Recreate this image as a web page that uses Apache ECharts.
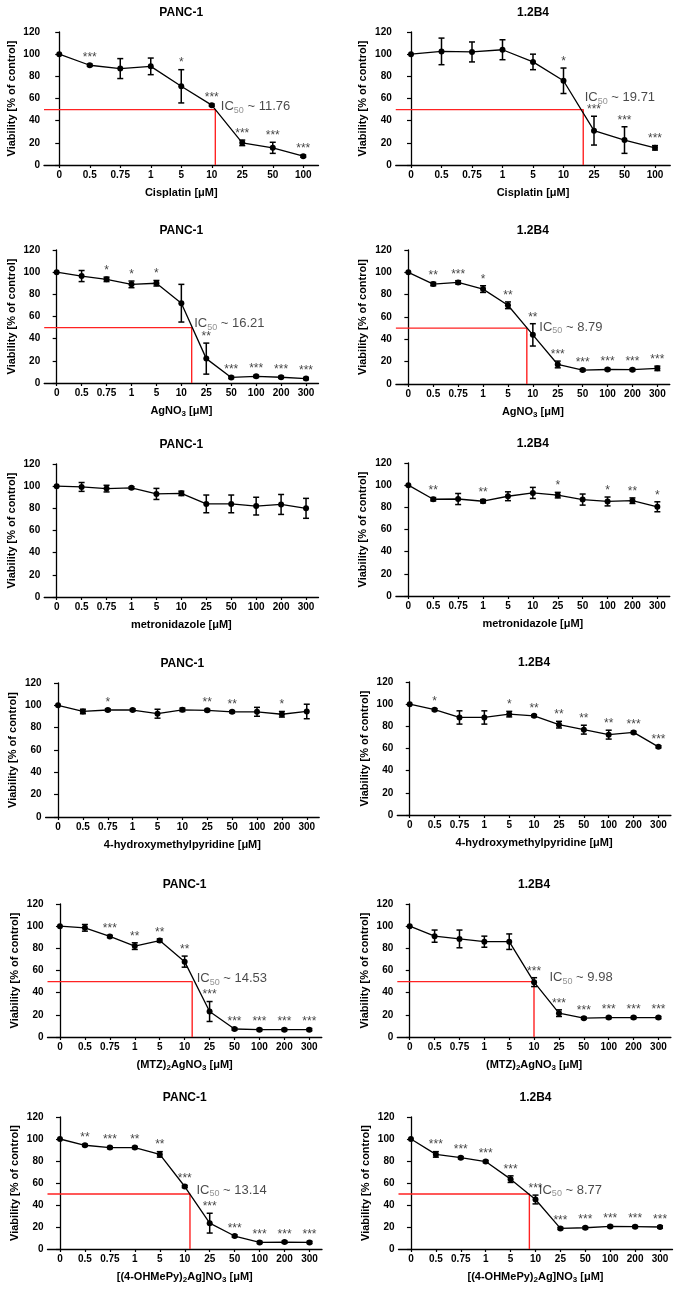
<!DOCTYPE html>
<html><head><meta charset="utf-8">
<script src="https://cdn.jsdelivr.net/npm/echarts@6/dist/echarts.min.js"></script>
<style>html,body{margin:0;padding:0;background:#fff}#c{width:678px;height:1290px}</style>
</head><body><div id="c"></div>
<script>
// ---------- categories (µM) ----------
const concShort = ['0','0.5','0.75','1','5','10','25','50','100'];
const concLong  = ['0','0.5','0.75','1','5','10','25','50','100','200','300'];
const cellLines = ['PANC-1', '1.2B4'];

// ---------- Cisplatin ----------
const cisPancMean = [100, 90, 87, 89, 71, 54, 20, 15.5, 8];
const cisPancErr  = [0, 1, 9, 7.5, 15, 1, 2.5, 5, 1];
const cisPancSig  = ['', '***', '', '', '*', '***', '***', '***', '***'];
const cisPancIC50 = 11.76;
const cisB4Mean = [100, 102.5, 102, 104, 93, 76, 31, 22.5, 15.5];
const cisB4Err  = [0, 12, 9, 9, 7, 11.5, 13, 12, 2];
const cisB4Sig  = ['', '', '', '', '', '*', '***', '***', '***'];
const cisB4IC50 = 19.71;

// ---------- AgNO3 ----------
const agPancMean = [100, 96.5, 93.5, 89, 90, 72, 22, 5, 6, 5.2, 4];
const agPancErr  = [0, 5, 2, 3, 2.5, 17, 14, 1, 1, 1, 1];
const agPancSig  = ['', '', '*', '*', '*', '', '**', '***', '***', '***', '***'];
const agPancIC50 = 16.21;
const agB4Mean = [100, 89.5, 91, 85, 70.5, 44, 17.5, 12.5, 13, 12.8, 14];
const agB4Err  = [0, 1.5, 1.5, 3, 3, 10, 3, 1, 1, 1, 2];
const agB4Sig  = ['', '**', '***', '*', '**', '**', '***', '***', '***', '***', '***'];
const agB4IC50 = 8.79;

// ---------- metronidazole ----------
const mtzPancMean = [100, 99.3, 97.8, 98.5, 93, 93.5, 84, 84, 82, 83.5, 80];
const mtzPancErr  = [0, 4, 3, 1, 5, 2, 8, 8, 8, 9, 9];
const mtzPancSig  = ['', '', '', '', '', '', '', '', '', '', ''];
const mtzB4Mean = [100, 87.3, 87.5, 85.5, 90, 93, 91, 87, 85.3, 86, 80.5];
const mtzB4Err  = [0, 1.5, 5, 1.5, 4, 5, 2.5, 5, 4, 2.5, 4.5];
const mtzB4Sig  = ['', '**', '', '**', '', '', '*', '', '*', '**', '*'];

// ---------- 4-hydroxymethylpyridine ----------
const hmpPancMean = [100, 94.5, 95.8, 95.8, 92.5, 96, 95.5, 94.2, 94.2, 92, 94.5];
const hmpPancErr  = [0, 2, 1, 1, 4, 1.5, 1, 1, 4, 2.5, 6.5];
const hmpPancSig  = ['', '', '*', '', '', '', '**', '**', '', '*', ''];
const hmpB4Mean = [100, 95, 88, 88, 91, 89.5, 81.5, 77, 72.5, 74.5, 61.5];
const hmpB4Err  = [0, 1, 6, 6, 2.5, 1, 3, 4, 4, 1, 1];
const hmpB4Sig  = ['', '*', '', '', '*', '**', '**', '**', '**', '***', '***'];

// ---------- (MTZ)2AgNO3 ----------
const mtzAgPancMean = [100, 98.5, 90.7, 82, 87, 68, 23, 7.2, 6.6, 6.6, 6.6];
const mtzAgPancErr  = [0, 3, 1, 3, 1.5, 5, 9, 1, 1, 1, 1];
const mtzAgPancSig  = ['', '', '***', '**', '**', '**', '***', '***', '***', '***', '***'];
const mtzAgPancIC50 = 14.53;
const mtzAgB4Mean = [100, 91, 88.5, 86, 86, 49.5, 21.5, 17, 17.5, 17.5, 17.5];
const mtzAgB4Err  = [0, 5.5, 8, 5, 7, 4, 3, 1, 1, 1, 1];
const mtzAgB4Sig  = ['', '', '', '', '', '***', '***', '***', '***', '***', '***'];
const mtzAgB4IC50 = 9.98;

// ---------- [(4-OHMePy)2Ag]NO3 ----------
const hmpAgPancMean = [100, 94.3, 92.2, 92.2, 86, 56.8, 23.5, 11.8, 6, 6.3, 6];
const hmpAgPancErr  = [0, 1, 1, 1, 2.5, 1, 9, 1, 1, 1, 1];
const hmpAgPancSig  = ['', '**', '***', '**', '**', '***', '***', '***', '***', '***', '***'];
const hmpAgPancIC50 = 13.14;
const hmpAgB4Mean = [100, 86, 83, 79.5, 63.5, 45, 18.7, 19.3, 20.5, 20.3, 20];
const hmpAgB4Err  = [0, 2.5, 1, 1, 3, 4, 1, 1, 1, 1, 1];
const hmpAgB4Sig  = ['', '***', '***', '***', '***', '***', '***', '***', '***', '***', '***'];
const hmpAgB4IC50 = 8.77;

const yMin = 0, yMax = 120, yStep = 20, ic50Level = 50;
const yName = 'Viability [% of control]';
const xNames = ['Cisplatin [μM]', 'AgNO{s|3} [μM]', 'metronidazole [μM]',
  '4-hydroxymethylpyridine [μM]', '(MTZ){s|2}AgNO{s|3} [μM]', '[(4-OHMePy){s|2}Ag]NO{s|3} [μM]'];

// ---------- panel table ----------
const panels = [
  {row:0, col:0, conc:concShort, mean:cisPancMean, err:cisPancErr, sig:cisPancSig, ic50:cisPancIC50},
  {row:0, col:1, conc:concShort, mean:cisB4Mean, err:cisB4Err, sig:cisB4Sig, ic50:cisB4IC50},
  {row:1, col:0, conc:concLong, mean:agPancMean, err:agPancErr, sig:agPancSig, ic50:agPancIC50},
  {row:1, col:1, conc:concLong, mean:agB4Mean, err:agB4Err, sig:agB4Sig, ic50:agB4IC50},
  {row:2, col:0, conc:concLong, mean:mtzPancMean, err:mtzPancErr, sig:mtzPancSig, ic50:null},
  {row:2, col:1, conc:concLong, mean:mtzB4Mean, err:mtzB4Err, sig:mtzB4Sig, ic50:null},
  {row:3, col:0, conc:concLong, mean:hmpPancMean, err:hmpPancErr, sig:hmpPancSig, ic50:null},
  {row:3, col:1, conc:concLong, mean:hmpB4Mean, err:hmpB4Err, sig:hmpB4Sig, ic50:null},
  {row:4, col:0, conc:concLong, mean:mtzAgPancMean, err:mtzAgPancErr, sig:mtzAgPancSig, ic50:mtzAgPancIC50},
  {row:4, col:1, conc:concLong, mean:mtzAgB4Mean, err:mtzAgB4Err, sig:mtzAgB4Sig, ic50:mtzAgB4IC50},
  {row:5, col:0, conc:concLong, mean:hmpAgPancMean, err:hmpAgPancErr, sig:hmpAgPancSig, ic50:hmpAgPancIC50},
  {row:5, col:1, conc:concLong, mean:hmpAgB4Mean, err:hmpAgB4Err, sig:hmpAgB4Sig, ic50:hmpAgB4IC50}
];

// ---------- layout (pixels) ----------
const gridBoxes = [ // left, width, top, bottom
  [44, 274.5, 32, 165], [395.75, 274.5, 32, 165],
  [44.2, 274.3, 250, 383], [395.9, 273.9, 250, 384],
  [44.2, 274.3, 464, 597], [395.9, 273.9, 463, 596],
  [45.6, 273.6, 683, 817], [397.3, 273.6, 682, 815],
  [47.5, 274.3, 904, 1037], [397.3, 273.6, 904, 1037],
  [47.5, 274.5, 1117, 1249], [398.5, 274, 1117, 1249]
];
const ic50Offsets = [[5,-3],[1,-12],[2,-4],[12,-1],[0,0],[0,0],[0,0],[0,0],[4,-3],[15,-4],[6,-4],[9,-4]];

const FONT = '"Liberation Sans", Arial, sans-serif';

function ic50Index(conc, v) {
  const c = conc.map(Number);
  for (let i = 0; i < c.length - 1; i++) {
    if (v >= c[i] && v <= c[i + 1]) return i + (v - c[i]) / (c[i + 1] - c[i]);
  }
  return null;
}

function errRender(params, api) {
  const i = api.value(0), lo = api.value(1), hi = api.value(2);
  const a = api.coord([i, lo]), b = api.coord([i, hi]);
  const cap = 3, st = {stroke: '#000', lineWidth: 1.5};
  return {type: 'group', children: [
    {type: 'line', shape: {x1: a[0], y1: a[1], x2: b[0], y2: b[1]}, style: st},
    {type: 'line', shape: {x1: a[0] - cap, y1: a[1], x2: a[0] + cap, y2: a[1]}, style: st},
    {type: 'line', shape: {x1: b[0] - cap, y1: b[1], x2: b[0] + cap, y2: b[1]}, style: st}
  ]};
}

const grids = [], xAxes = [], yAxes = [], titles = [], series = [];
const nP = panels.length;
panels.forEach((p, k) => {
  const [l, w, t, b] = gridBoxes[k];
  grids.push({left: l, width: w, top: t, height: b - t});
  titles.push({text: cellLines[p.col], left: l + w / 2, top: t - 25, textAlign: 'center', padding: 0,
    textStyle: {fontFamily: FONT, fontSize: 12, fontWeight: 'bold', color: '#000'}});
  xAxes.push({type: 'category', gridIndex: k, data: p.conc, boundaryGap: true,
    name: xNames[p.row], nameLocation: 'middle', nameGap: 21,
    nameTextStyle: {fontFamily: FONT, fontSize: 11, fontWeight: 'bold', color: '#000', lineHeight: 14,
      rich: {s: {fontFamily: FONT, fontSize: 8, fontWeight: 'bold', color: '#000', lineHeight: 8, verticalAlign: 'bottom'}}},
    axisLine: {lineStyle: {color: '#000', width: 1.3}},
    axisTick: {show: true, alignWithLabel: true, length: 3, lineStyle: {color: '#000', width: 1.2}},
    axisLabel: {fontFamily: FONT, fontSize: 10, fontWeight: 'bold', color: '#000', margin: 5, interval: 0},
    splitLine: {show: false}});
  yAxes.push({type: 'value', gridIndex: k, min: yMin, max: yMax, interval: yStep,
    name: yName, nameLocation: 'middle', nameRotate: 90, nameGap: 27,
    nameTextStyle: {fontFamily: FONT, fontSize: 11, fontWeight: 'bold', color: '#000'},
    axisLine: {show: true, lineStyle: {color: '#000', width: 1.3}},
    axisTick: {show: true, length: 4, lineStyle: {color: '#000', width: 1.2}},
    axisLabel: {fontFamily: FONT, fontSize: 10, fontWeight: 'bold', color: '#000', margin: 4},
    splitLine: {show: false}});

  // mean curve
  series.push({type: 'line', xAxisIndex: k, yAxisIndex: k, data: p.mean, symbol: 'circle', symbolSize: 6,
    itemStyle: {color: '#000'}, lineStyle: {color: '#000', width: 1.3}, z: 5, animation: false});
  // error bars
  series.push({type: 'custom', xAxisIndex: k, yAxisIndex: k, renderItem: errRender, z: 4, animation: false,
    data: p.mean.map((m, i) => [i, m - p.err[i], m + p.err[i]]).filter((d, i) => p.err[i] > 0),
    encode: {x: 0, y: [1, 2]}});
  // significance stars
  series.push({type: 'scatter', xAxisIndex: k, yAxisIndex: k, symbolSize: 1, itemStyle: {color: 'transparent'},
    animation: false, z: 6,
    data: p.mean.map((m, i) => [i, m + p.err[i], p.sig[i]]).filter(d => d[2] !== ''),
    label: {show: true, position: 'top', distance: 0, formatter: q => q.value[2],
      fontFamily: FONT, fontSize: 12, color: '#111'}});
});

// hidden value x-axes for IC50 guides
panels.forEach((p, k) => {
  xAxes.push({type: 'value', gridIndex: k, show: false, min: -0.5, max: p.conc.length - 0.5});
  if (p.ic50 == null) return;
  const xi = ic50Index(p.conc, p.ic50);
  const ax = nP + k;
  series.push({type: 'line', xAxisIndex: ax, yAxisIndex: k, symbol: 'none', animation: false, z: 3,
    lineStyle: {color: '#ff2222', width: 1.4},
    data: [[-0.5, ic50Level], [xi, ic50Level], [xi, yMin]]});
  series.push({type: 'scatter', xAxisIndex: ax, yAxisIndex: k, symbolSize: 1, itemStyle: {color: 'transparent'},
    animation: false, z: 7, data: [[xi, ic50Level]],
    label: {show: true, position: 'right', distance: 0, offset: ic50Offsets[k],
      formatter: () => '{m|IC}{s|50}{m| ~ ' + p.ic50.toFixed(2) + '}',
      rich: {m: {fontFamily: FONT, fontSize: 13, color: '#1a1a1a', lineHeight: 16},
             s: {fontFamily: FONT, fontSize: 9, color: '#777', lineHeight: 9, verticalAlign: 'bottom'}}}});
});

const chart = echarts.init(document.getElementById('c'), null, {renderer: 'canvas'});
chart.setOption({backgroundColor: '#fff', animation: false, textStyle: {fontFamily: FONT},
  title: titles, grid: grids, xAxis: xAxes, yAxis: yAxes, series: series});
</script></body></html>
